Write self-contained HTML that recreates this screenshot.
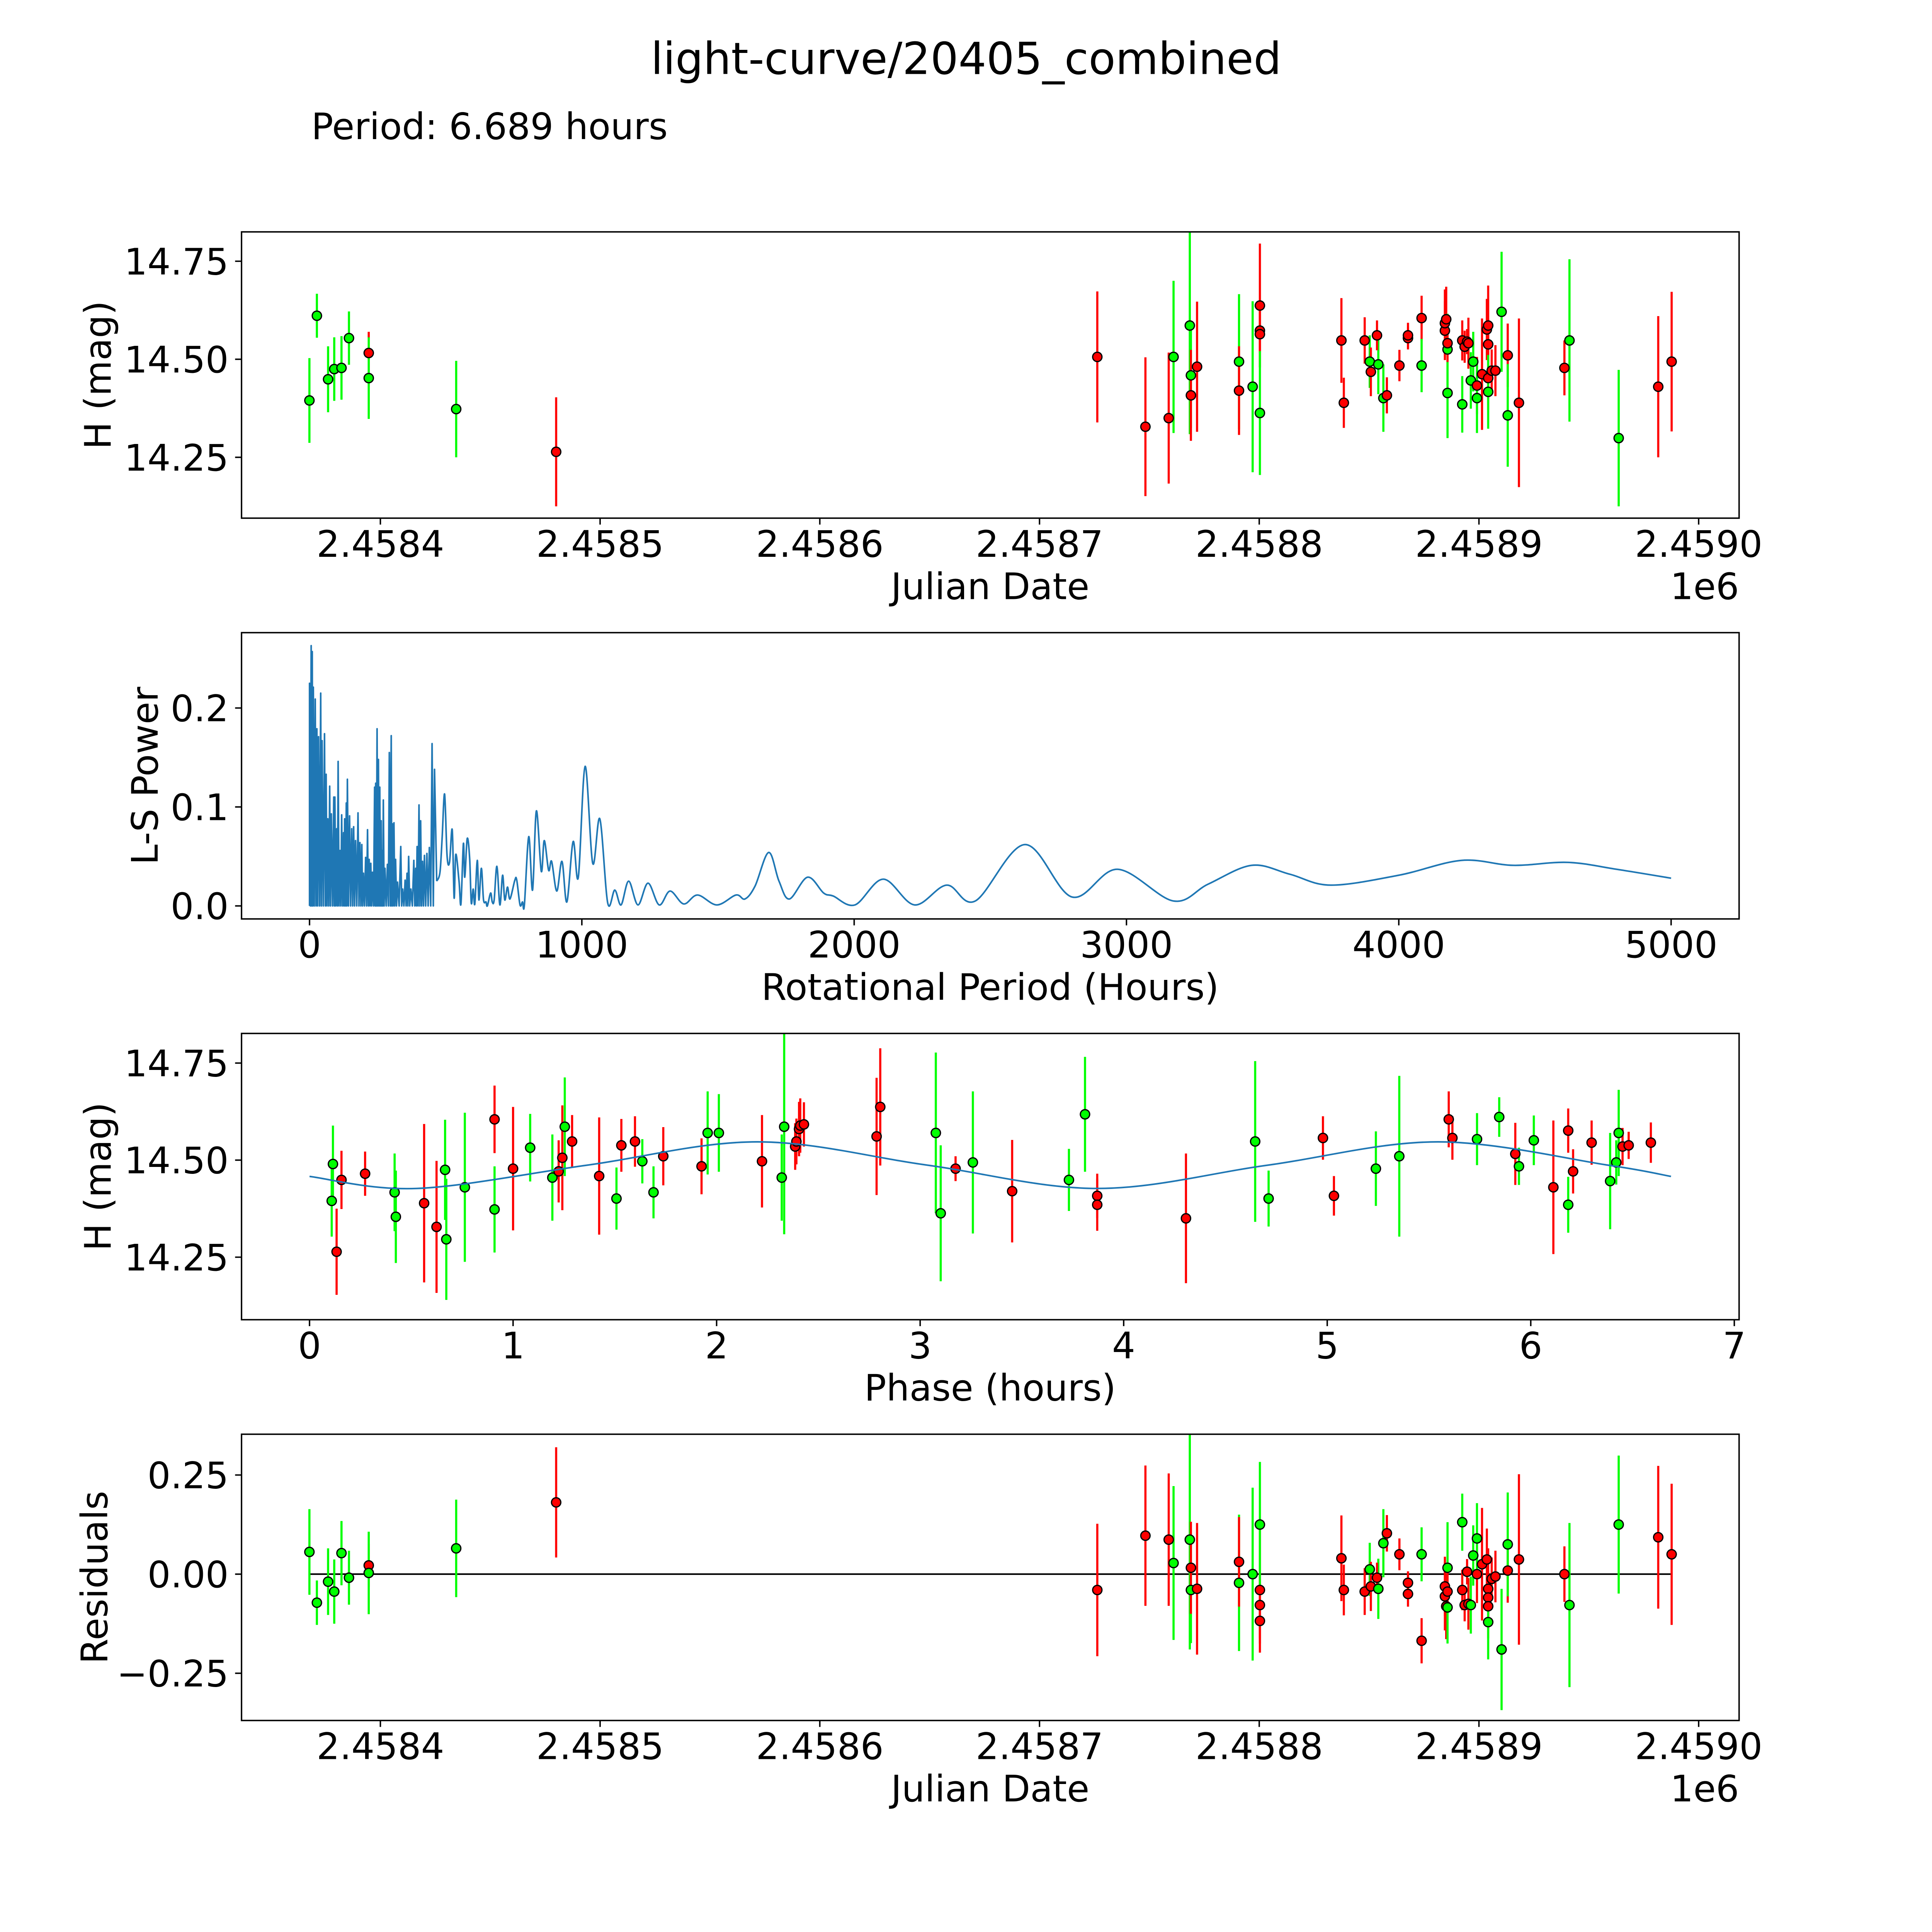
<!DOCTYPE html>
<html><head><meta charset="utf-8"><title>light-curve/20405_combined</title>
<style>
html,body{margin:0;padding:0;background:#fff;overflow:hidden;}
svg{display:block;font-family:"DejaVu Sans","Liberation Sans",sans-serif;}
</style></head>
<body>
<svg id="fig" xmlns="http://www.w3.org/2000/svg" width="5400" height="5400" viewBox="0 0 5831 5831">
<rect x="0" y="0" width="5831" height="5831" fill="#fff"/>
<text x="2700" y="207" font-size="123" text-anchor="middle">light-curve/20405_combined</text>
<text x="870" y="389" font-size="102">Period: 6.689 hours</text>
<g id="ax1"></g>
<g id="ax2"></g>
<g id="ax3"></g>
<g id="ax4"></g>
</svg>
<script>
// ---------- data: light curve ----------
const obsJD = [2458367.7,2458371.1,2458376.2,2458379.0,2458382.3,2458385.7,2458394.7,2458394.7,2458434.5,2458480.0,
2458726.3,2458748.2,2458758.8,2458761.0,2458768.4,2458768.9,2458768.9,2458771.7,2458790.8,2458790.8,
2458797.0,2458800.3,2458800.3,2458800.3,2458800.3,2458837.4,2458838.5,2458848.0,2458850.3,2458850.8,
2458854.2,2458853.6,2458856.5,2458858.1,2458863.8,2458867.7,2458867.7,2458873.9,2458873.9,2458884.5,
2458884.5,2458885.1,2458885.7,2458885.7,2458885.7,2458892.4,2458892.4,2458893.5,2458894.6,2458895.2,
2458896.3,2458897.4,2458899.1,2458899.1,2458901.4,2458903.6,2458904.2,2458904.2,2458904.2,2458904.2,
2458905.8,2458907.5,2458910.3,2458913.1,2458913.1,2458918.2,2458938.9,2458941.2,2458963.6,2458981.6,2458987.7];
const obsMag = [14.395,14.611,14.449,14.475,14.478,14.554,14.516,14.452,14.373,14.264,
14.506,14.328,14.350,14.506,14.586,14.459,14.408,14.481,14.494,14.420,
14.430,14.637,14.573,14.564,14.363,14.548,14.389,14.548,14.494,14.468,
14.487,14.561,14.401,14.408,14.484,14.554,14.561,14.605,14.484,14.573,
14.592,14.602,14.525,14.414,14.541,14.548,14.385,14.532,14.545,14.541,
14.446,14.494,14.433,14.401,14.462,14.576,14.586,14.538,14.452,14.417,
14.471,14.471,14.621,14.510,14.357,14.389,14.478,14.548,14.299,14.430,14.494];
const obsErr = [0.108,0.056,0.084,0.081,0.081,0.068,0.054,0.104,0.123,0.139,
0.167,0.177,0.167,0.194,0.277,0.134,0.116,0.166,0.172,0.113,
0.218,0.158,0.057,0.084,0.158,0.108,0.064,0.059,0.067,0.062,
0.076,0.038,0.086,0.046,0.040,0.029,0.032,0.057,0.068,0.075,
0.086,0.083,0.091,0.115,0.048,0.051,0.072,0.041,0.032,0.065,
0.072,0.076,0.073,0.089,0.142,0.078,0.102,0.065,0.081,0.094,
0.054,0.065,0.153,0.081,0.131,0.215,0.070,0.207,0.174,0.180,0.178];
const obsColor = ["g","g","g","g","g","g","r","g","g","r",
"r","r","r","g","g","g","r","r","g","r",
"g","r","r","r","g","r","r","r","g","r",
"g","r","g","r","r","r","r","r","g","r",
"r","r","g","g","r","r","g","r","r","r",
"g","g","r","g","r","r","r","r","r","g",
"r","r","g","r","g","r","r","g","g","r","r"];
const residual = [0.056,-0.072,-0.019,-0.044,0.053,-0.009,0.022,0.003,0.065,0.181,
-0.040,0.097,0.087,0.028,0.087,-0.040,0.016,-0.037,-0.022,0.031,
0.000,-0.040,-0.118,-0.078,0.125,0.040,-0.040,-0.044,0.012,-0.031,
-0.037,-0.009,0.078,0.103,0.050,-0.022,-0.050,-0.168,0.050,-0.031,
-0.056,-0.081,-0.084,0.016,-0.044,-0.040,0.131,-0.078,0.006,-0.075,
-0.078,0.047,0.000,0.090,0.025,0.037,-0.037,-0.059,-0.081,-0.121,
-0.012,-0.006,-0.190,0.009,0.075,0.037,0.000,-0.078,0.125,0.093,0.050];
// ---------- data: phase folded ----------
const phaseHr = [0.109,0.115,0.133,0.157,0.273,0.418,0.424,0.563,0.624,0.666,0.672,0.763,0.909,0.909,1.0,1.084,1.193,1.224,1.242,1.254,
1.290,1.423,1.508,1.532,1.599,1.635,1.690,1.738,1.926,1.956,2.011,2.223,2.320,2.332,2.386,2.392,2.405,2.411,2.429,2.786,
2.804,3.077,3.101,3.174,3.259,3.452,3.731,3.810,3.870,3.870,4.306,4.646,4.712,4.979,5.033,5.239,5.354,5.597,5.615,5.736,
5.845,5.924,5.942,6.015,6.111,6.184,6.184,6.208,6.299,6.390,6.420,6.432,6.451,6.481,6.590];
const phaseMag = [14.395,14.490,14.264,14.449,14.465,14.417,14.354,14.389,14.328,14.475,14.296,14.430,14.373,14.605,14.478,14.532,14.455,14.471,14.506,14.586,
14.548,14.459,14.401,14.538,14.548,14.497,14.417,14.510,14.484,14.570,14.570,14.497,14.455,14.586,14.535,14.548,14.580,14.589,14.592,14.561,
14.637,14.570,14.363,14.478,14.494,14.420,14.449,14.618,14.408,14.385,14.350,14.548,14.401,14.557,14.408,14.478,14.510,14.605,14.557,14.554,
14.611,14.516,14.484,14.551,14.430,14.576,14.385,14.471,14.545,14.446,14.494,14.570,14.535,14.538,14.545];
const phaseErr = [0.092,0.099,0.111,0.075,0.057,0.100,0.119,0.204,0.170,0.129,0.156,0.192,0.111,0.087,0.159,0.087,0.111,0.080,0.135,0.127,
0.068,0.151,0.080,0.068,0.065,0.057,0.067,0.075,0.072,0.107,0.100,0.119,0.111,0.277,0.060,0.059,0.070,0.070,0.057,0.151,
0.151,0.207,0.175,0.032,0.183,0.132,0.080,0.148,0.057,0.067,0.167,0.207,0.072,0.056,0.051,0.096,0.207,0.072,0.056,0.067,
0.051,0.080,0.048,0.064,0.172,0.057,0.072,0.057,0.057,0.124,0.057,0.111,0.048,0.035,0.052];
const phaseColor = ["g","g","r","r","r","g","g","r","r","g","g","g","g","r","r","g","g","r","r","g",
"r","r","g","r","r","g","g","r","r","g","g","r","g","g","r","r","r","r","r","r",
"r","g","g","r","g","r","g","g","r","r","r","g","g","r","r","g","g","r","r","g",
"g","r","g","g","r","r","g","r","r","g","g","g","r","r","r"];
const modelPhase = [0,0.528,1.364,2.2,3.036,3.872,4.708,5.544,6.38,6.689];
const modelMag = [14.458,14.427,14.487,14.547,14.487,14.427,14.487,14.547,14.487,14.458];
// ---------- data: periodogram ----------
const spikeHours = [0,6,10,14,21,27,33,41,46,55,61,67,74,80,89,93,100,105,112,118,125,129,135,139,147,155,162,169,178,185,
192,198,206,213,219,225,231,239,243,248,253,258,263,267,271,277,286,293,300,304,310,316,323,335,342,351,358,364,372,383,
390,395,402,408,415,422,431,440,450,459];
const spikePower = [0.225,0.263,0.257,0.221,0.209,0.179,0.171,0.215,0.167,0.174,0.133,0.088,0.121,0.093,0.110,0.110,0.078,0.146,0.056,0.092,
0.074,0.088,0.104,0.128,0.091,0.078,0.080,0.066,0.094,0.064,0.062,0.033,0.049,0.077,0.047,0.043,0.034,0.120,0.124,0.179,
0.148,0.120,0.086,0.056,0.107,0.038,0.042,0.155,0.172,0.083,0.084,0.047,0.024,0.060,0.017,0.026,0.033,0.050,0.017,0.046,
0.038,0.060,0.102,0.086,0.045,0.051,0.053,0.059,0.164,0.138];
const curveHours = [467,479,487,496,505,514,524,531,537,549,556,565,570,579,588,594,601,607,616,622,631,639,648,653,665,671,678,688,699,709,
717,727,736,754,761,773,782,789,805,819,833,851,862,878,889,908,927,945,968,987,1012,1040,1066,1095,1121,1144,1172,1206,1243,1284,
1324,1374,1425,1496,1566,1599,1636,1686,1724,1762,1829,1888,1923,2003,2107,2222,2340,2445,2627,2800,2967,3172,3300,3460,3600,3750,4000,4230,4420,4620,4800,5000];
const curvePower = [0.025,0.034,0.069,0.113,0.051,0.044,0.077,0.008,0.052,0.025,0.002,0.063,0.029,0.068,0.048,0.003,0.017,0.002,0.046,0.006,0.038,0.006,0.004,0.000,0.013,0.004,0.006,0.040,0.001,0.031,
0.006,0.019,0.007,0.026,0.026,0.001,0.004,0.001,0.070,0.016,0.096,0.035,0.066,0.036,0.045,0.015,0.045,0.004,0.065,0.029,0.141,0.043,0.088,0.003,0.016,0.001,0.025,0.001,0.023,0.001,
0.015,0.002,0.011,0.001,0.011,0.007,0.020,0.054,0.025,0.007,0.029,0.013,0.010,0.001,0.027,0.001,0.021,0.005,0.062,0.009,0.037,0.005,0.022,0.041,0.032,0.021,0.031,0.046,0.041,0.044,0.037,0.028];
// ---------- tick arrays ----------
const jdTicks = [2458400,2458500,2458600,2458700,2458800,2458900,2459000];
const jdTickLabels = ["2.4584","2.4585","2.4586","2.4587","2.4588","2.4589","2.4590"];
const magTicks = [14.25,14.5,14.75];
const magTickLabels = ["14.25","14.50","14.75"];
const lsXTicks = [0,1000,2000,3000,4000,5000];
const lsXTickLabels = ["0","1000","2000","3000","4000","5000"];
const lsYTicks = [0,0.1,0.2];
const lsYTickLabels = ["0.0","0.1","0.2"];
const phTicks = [0,1,2,3,4,5,6,7];
const phTickLabels = ["0","1","2","3","4","5","6","7"];
const resTicks = [-0.25,0,0.25];
const resTickLabels = ["\u22120.25","0.00","0.25"];

const NS = "http://www.w3.org/2000/svg";
const L = 675, R = 4860;
const COL = {g:"#00ff00", r:"#ff0000"};
function el(tag, attrs, parent){const e=document.createElementNS(NS,tag);for(const k in attrs)e.setAttribute(k,attrs[k]);parent.appendChild(e);return e;}

const axes = [
 {g:document.getElementById('ax1'), top:648, bot:1448},
 {g:document.getElementById('ax2'), top:1768, bot:2568},
 {g:document.getElementById('ax3'), top:2888, bot:3688},
 {g:document.getElementById('ax4'), top:4008, bot:4808}
];
const xJD = jd => 4747 + (jd - 2459000) * 6.14;
const y1 = m => 1004 - (m - 14.5) * 1096;
const xLS = h => 865 + h * 0.761;
const y2 = p => 2531.6 - p * 2765.3;
const xPh = p => 865 + p * 568.8;
const y3 = m => 3242 - (m - 14.5) * 1085;
const y4 = r => 4399 - r * 1108;

function clip(ax, id){
  const defs = el('defs',{},ax.g);
  const cp = el('clipPath',{id:id},defs);
  el('rect',{x:L,y:ax.top,width:R-L,height:ax.bot-ax.top},cp);
}
function frame(ax){
  const f = el('rect',{x:L,y:ax.top,width:R-L,height:ax.bot-ax.top,fill:'none',stroke:'#000','stroke-width':4},ax.g);
  
  
}
function xticks(ax, vals, labels, sx, nm){
  vals.forEach((v,i)=>{
    const x=sx(v);
    const t=el('line',{x1:x,x2:x,y1:ax.bot,y2:ax.bot+18,stroke:'#000','stroke-width':4},ax.g);
    
    
    const tx=el('text',{x:x,y:ax.bot+108,'font-size':102,'text-anchor':'middle'},ax.g);
    tx.textContent=labels[i];
    
    
  });
}
function yticks(ax, vals, labels, sy, nm){
  vals.forEach((v,i)=>{
    const y=sy(v);
    const t=el('line',{x1:L-18,x2:L,y1:y,y2:y,stroke:'#000','stroke-width':4},ax.g);
    
    
    const tx=el('text',{x:639,y:y+37,'font-size':102,'text-anchor':'end'},ax.g);
    tx.textContent=labels[i];
    
    
  });
}
function label(ax, txt, x, y, rot, nm, anchor){
  const t=el('text',{x:x,y:y,'font-size':102,'text-anchor':anchor||'middle'},ax.g);
  if(rot){t.setAttribute('transform','rotate(-90 '+x+' '+y+')');t.setAttribute('dominant-baseline','central');}
  t.textContent=txt;
  
  
}
function points(ax, xs, ys, errs, cols, sx, sy, cid, nm){
  const g=el('g',{'clip-path':'url(#'+cid+')'},ax.g);
  
  
  for(let i=0;i<xs.length;i++){
    const x=sx(xs[i]);
    const b=el('line',{x1:x,x2:x,y1:sy(ys[i]+errs[i]),y2:sy(ys[i]-errs[i]),stroke:COL[cols[i]],'stroke-width':6},g);
    
    
  }
  for(let i=0;i<xs.length;i++){
    const c=el('circle',{cx:sx(xs[i]),cy:sy(ys[i]),r:13,fill:COL[cols[i]],stroke:'#000','stroke-width':3.5},g);
    
    
  }
}
function catmull(xs, ys){
  let d='M'+xs[0]+','+ys[0];
  for(let i=0;i<xs.length-1;i++){
    const x0=xs[Math.max(i-1,0)],y0=ys[Math.max(i-1,0)],x1=xs[i],y1_=ys[i],x2=xs[i+1],y2_=ys[i+1],x3=xs[Math.min(i+2,xs.length-1)],y3_=ys[Math.min(i+2,xs.length-1)];
    d+=' C'+(x1+(x2-x0)/6)+','+(y1_+(y2_-y0)/6)+' '+(x2-(x3-x1)/6)+','+(y2_-(y3_-y1_)/6)+' '+x2+','+y2_;
  }
  return d;
}

// ---- Panel 1 ----
let a=axes[0]; clip(a,'c1');
points(a,obsJD,obsMag,obsErr,obsColor,xJD,y1,'c1','lightcurve');
frame(a); xticks(a,jdTicks,jdTickLabels,xJD,'jd-axis'); yticks(a,magTicks,magTickLabels,y1,'mag-axis');
label(a,'Julian Date',2767,a.bot+226,false,'x-axis-title');
label(a,'1e6',R,a.bot+226,false,'x-axis-offset','end');
label(a,'H (mag)',275,(a.top+a.bot)/2,true,'y-axis-title');

// ---- Panel 2 ----
a=axes[1]; clip(a,'c2');
{
  let d='';
  for(let i=0;i<spikeHours.length;i++){
    const x=xLS(spikeHours[i]);
    d+=(i===0?'M'+x+','+y2(0)+' L':' L')+x+','+y2(spikePower[i]);
    if(i<spikeHours.length-1){const mx=xLS((spikeHours[i]+spikeHours[i+1])/2);d+=' L'+mx+','+y2(0);}
  }
  d+=' L'+xLS(curveHours[0])+','+y2(curvePower[0]);
  const p1=el('path',{d:d,fill:'none',stroke:'#1f77b4','stroke-width':4.5,'stroke-linejoin':'round','clip-path':'url(#c2)'},a.g);
  
  
  const p2=el('path',{d:catmull(curveHours.map(xLS),curvePower.map(y2)),fill:'none',stroke:'#1f77b4','stroke-width':4.5,'stroke-linejoin':'round','clip-path':'url(#c2)'},a.g);
  
  
}
frame(a); xticks(a,lsXTicks,lsXTickLabels,xLS,'period-axis'); yticks(a,lsYTicks,lsYTickLabels,y2,'power-axis');
label(a,'Rotational Period (Hours)',2767,a.bot+226,false,'x-axis-title');
label(a,'L-S Power',406,(a.top+a.bot)/2,true,'y-axis-title');

// ---- Panel 3 ----
a=axes[2]; clip(a,'c3');
points(a,phaseHr,phaseMag,phaseErr,phaseColor,xPh,y3,'c3','phase');
{
  const m=el('path',{d:catmull(modelPhase.map(xPh),modelMag.map(y3)),fill:'none',stroke:'#1f77b4','stroke-width':4.5},a.g);
  
  
}
frame(a); xticks(a,phTicks,phTickLabels,xPh,'phase-axis'); yticks(a,magTicks,magTickLabels,y3,'mag-axis');
label(a,'Phase (hours)',2767,a.bot+226,false,'x-axis-title');
label(a,'H (mag)',275,(a.top+a.bot)/2,true,'y-axis-title');

// ---- Panel 4 ----
a=axes[3]; clip(a,'c4');
{
  const z=el('line',{x1:xJD(obsJD[0]),x2:xJD(obsJD[obsJD.length-1]),y1:y4(0),y2:y4(0),stroke:'#000','stroke-width':4.5},a.g);
  
  
}
points(a,obsJD,residual,obsErr,obsColor,xJD,y4,'c4','residual');
frame(a); xticks(a,jdTicks,jdTickLabels,xJD,'jd-axis'); yticks(a,resTicks,resTickLabels,y4,'residual-axis');
label(a,'Julian Date',2767,a.bot+226,false,'x-axis-title');
label(a,'1e6',R,a.bot+226,false,'x-axis-offset','end');
label(a,'Residuals',265,(a.top+a.bot)/2,true,'y-axis-title');
</script>
</body></html>
